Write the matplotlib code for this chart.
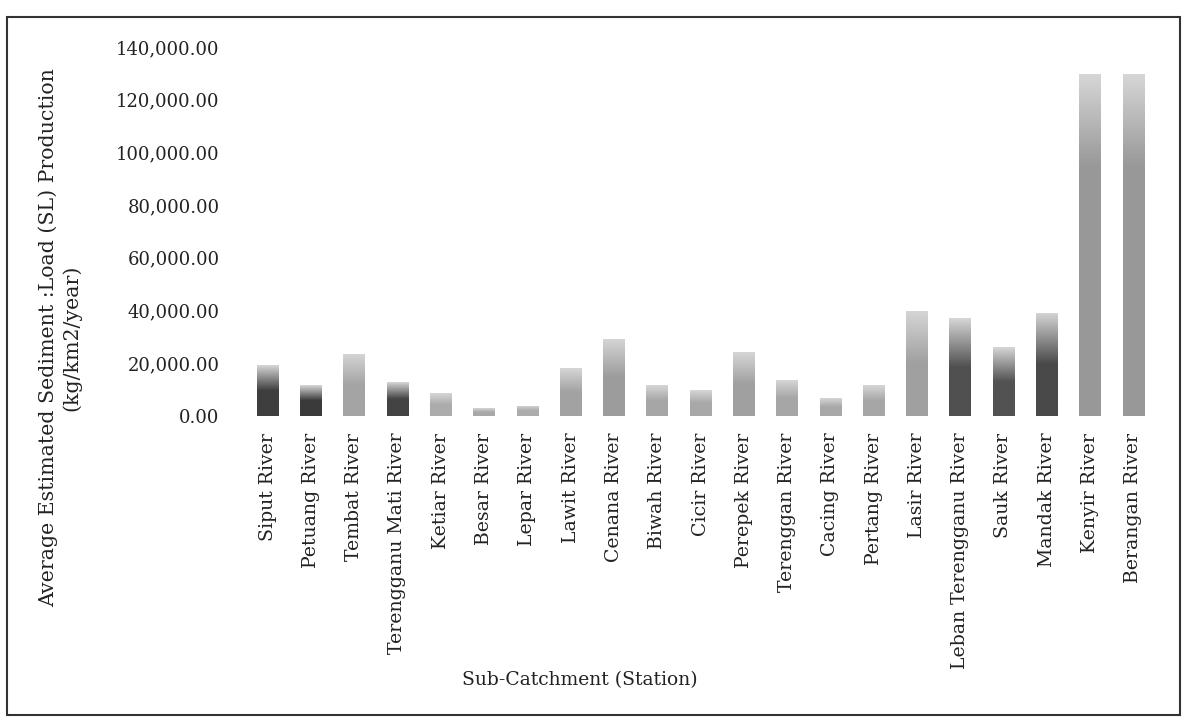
import numpy as np
import matplotlib.pyplot as plt
from matplotlib.patches import Rectangle
from matplotlib.colors import LinearSegmentedColormap

stations = ["Siput River", "Petuang River", "Tembat River", "Terengganu Mati River",
            "Ketiar River", "Besar River", "Lepar River", "Lawit River", "Cenana River",
            "Biwah River", "Cicir River", "Perepek River", "Terenggan River", "Cacing River",
            "Pertang River", "Lasir River", "Leban Terengganu River", "Sauk River",
            "Mandak River", "Kenyir River", "Berangan River"]
sediment_load = [19200, 11700, 23700, 12800, 8700, 3000, 3800, 18100, 29400, 11700,
                 9800, 24100, 13600, 6800, 11700, 40000, 37000, 26000, 39200, 129700, 129700]
bar_colors = ["#3e3e3e", "#3a3a3a", "#a4a4a4", "#434343", "#acacac", "#a8a8a8", "#acacac",
              "#a2a2a2", "#9c9c9c", "#a6a6a6", "#a8a8a8", "#a0a0a0", "#a6a6a6", "#a8a8a8",
              "#a6a6a6", "#a0a0a0", "#505050", "#525252", "#494949", "#989898", "#989898"]
yticks = [0, 20000, 40000, 60000, 80000, 100000, 120000, 140000]

plt.rcParams['font.family'] = 'DejaVu Serif'

fig = plt.figure(figsize=(11.84, 7.22), dpi=100)
ax = fig.add_axes([246/1184, 1-416/722, (1155-246)/1184, (416-47)/722])

x = np.arange(len(stations))
bars = ax.bar(x, sediment_load, width=0.5, color=bar_colors)

# fade each bar from its colour to a lighter grey near the top (scanned look)
grad = np.linspace(0, 1, 200).reshape(-1, 1)
for b, c in zip(bars, bar_colors):
    h = b.get_height()
    start = max(0.5, 1 - 35000/h)
    cmap = LinearSegmentedColormap.from_list("g", [(0, c), (start, c), (1, "#d6d6d6")])
    im = ax.imshow(grad, extent=[b.get_x(), b.get_x()+b.get_width(), 0, h],
                   origin='lower', aspect='auto', cmap=cmap, zorder=2)
    im.set_clip_path(b)

ax.set_xlim(-0.5, len(stations)-0.5)
ax.set_ylim(0, 140000)
ax.set_yticks(yticks)
ax.set_yticklabels(["{:,.2f}".format(v) for v in yticks], fontsize=13, color="#222222")
ax.set_xticks(x)
ax.set_xticklabels(stations, rotation=90, fontsize=13.6, color="#222222")
ax.tick_params(axis='y', length=0, pad=19)
ax.tick_params(axis='x', length=0, pad=12)
for s in ax.spines.values():
    s.set_visible(False)

fig.text(60/1184, 1-338/722,
         "Average Estimated Sediment :Load (SL) Production\n(kg/km2/year)",
         rotation=90, ha='center', va='center', multialignment='center',
         fontsize=14.8, color="#222222", linespacing=1.25)
fig.text(580/1184, 1-680/722, "Sub-Catchment (Station)", ha='center', va='center',
         fontsize=13.5, color="#222222")

# border around the whole chart
fig.patches.append(Rectangle((7/1184, 1-715/722), (1180-7)/1184, (715-17)/722,
                             transform=fig.transFigure, fill=False,
                             edgecolor="#333333", linewidth=1.5))

fig.savefig("out.png", dpi=100)
